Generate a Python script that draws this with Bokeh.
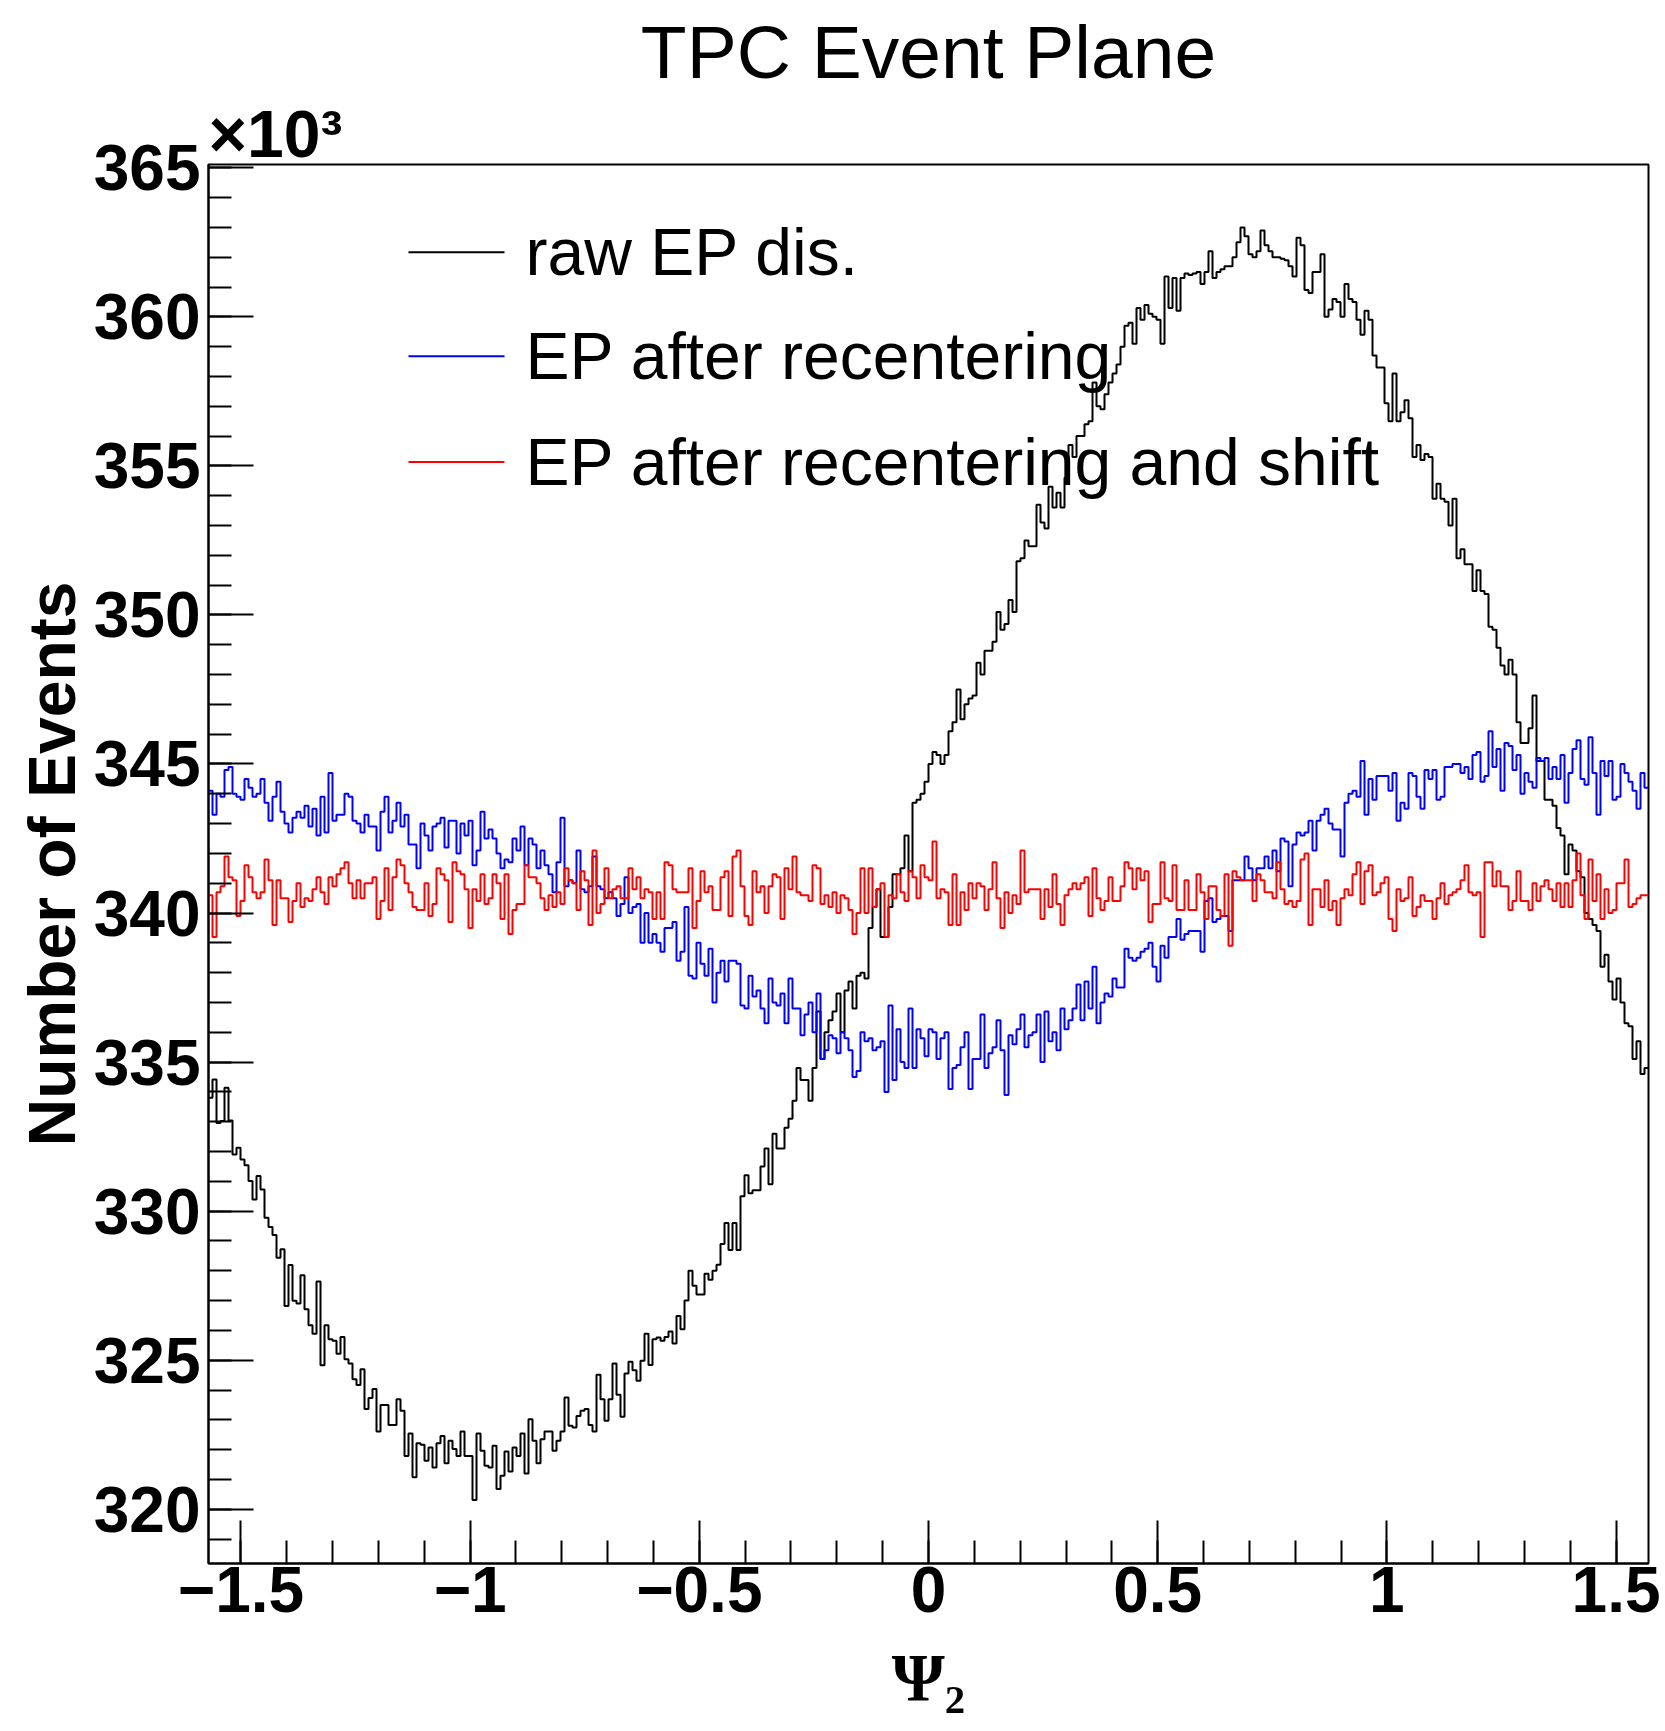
import numpy as np
from bokeh.plotting import figure
from bokeh.models import Range1d, SingleIntervalTicker, Title, CustomJSTickFormatter
from bokeh.core.properties import value
from bokeh.embed import file_html
from bokeh.resources import INLINE

# ---------------- data (counts in units of 10^3) ----------------
raw_ep = [
 333.80, 334.42, 332.96, 333.02, 334.14, 333.04, 331.90, 332.13, 331.73, 331.54,
 331.01, 330.39, 331.18, 330.73, 329.78, 329.47, 329.20, 328.44, 328.72, 326.82,
 328.19, 326.99, 326.90, 327.85, 326.71, 326.17, 325.89, 327.64, 324.83, 326.17,
 325.70, 325.65, 325.22, 325.78, 325.03, 324.89, 324.36, 324.17, 324.70, 323.36,
 323.73, 324.03, 322.61, 323.50, 323.50, 322.83, 322.83, 323.69, 323.30, 321.79,
 322.54, 321.07, 322.21, 322.16, 321.63, 322.07, 321.40, 322.21, 322.46, 321.54,
 322.30, 322.02, 321.79, 322.61, 321.79, 321.79, 320.31, 322.54, 321.96, 321.46,
 321.40, 322.13, 320.68, 321.12, 321.94, 321.27, 322.07, 321.79, 322.54, 321.20,
 323.02, 322.30, 321.54, 322.35, 322.61, 322.61, 321.96, 322.30, 322.61, 323.75,
 322.80, 322.74, 323.13, 323.30, 323.36, 322.83, 322.61, 324.51, 323.69, 322.97,
 323.69, 324.89, 323.84, 323.10, 324.55, 324.95, 324.66, 324.31, 324.98, 325.89,
 324.84, 325.70, 325.76, 325.65, 325.78, 325.96, 325.56, 326.48, 326.04,
 327.0, 328.0, 327.5, 327.2, 327.2, 327.9, 327.7, 328.0, 328.2, 328.9,
 329.6, 328.7, 329.6, 328.7, 330.5, 331.2, 330.6, 330.7, 330.7, 331.5,
 332.1, 330.9, 332.6, 332.1, 332.1, 332.8, 333.1, 333.7, 334.8, 334.4,
 334.4, 333.7, 334.8, 336.7, 335.1, 336.0, 336.4, 336.7, 337.3, 336.0,
 337.4, 337.7, 336.8, 337.9, 338.0, 337.8, 339.5, 340.2, 340.8, 339.2,
 339.2, 340.2, 341.3, 341.3, 341.5, 342.6, 341.4, 343.7, 343.8, 344.0,
 344.4, 345.0, 345.4, 345.3, 345.0, 345.3, 346.1, 346.4, 347.5, 346.5,
 347.0, 347.2, 347.3, 348.4, 348.0, 348.8, 348.8, 349.1, 350.1, 349.5,
 349.7, 350.5, 350.1, 351.8, 351.9, 352.5, 352.3, 352.3, 353.7, 353.1,
 352.9, 354.3, 353.6, 354.1, 353.6, 354.6, 355.7, 355.3, 356.0, 356.0,
 356.4, 356.5, 357.8, 357.0, 356.9, 357.4, 357.8, 358.1, 358.4, 359.0,
 359.7, 359.8, 359.1, 360.3, 359.9, 360.4, 360.1, 360.0, 359.9, 359.1,
 361.35, 360.3, 361.3, 360.2, 361.3, 361.45, 361.4, 361.45, 361.5, 361.1,
 361.5, 362.2, 361.3, 361.5, 361.6, 361.7, 361.7, 362.0, 362.5, 363.0,
 362.7, 362.1, 362.0, 362.2, 362.9, 362.4, 362.2, 362.0, 362.0, 361.95,
 361.9, 361.7, 361.35, 362.65, 362.4, 360.9, 360.8, 361.5, 361.5, 362.1,
 360.0, 360.25, 360.6, 360.5, 360.0, 361.1, 360.6, 360.5, 359.9, 359.4,
 360.2, 359.9, 358.7, 358.3, 358.3, 357.1, 356.5, 358.1, 356.5, 356.8,
 357.2, 356.6, 355.3, 355.7, 355.2, 355.4, 355.3, 353.9, 354.4, 353.9,
 353.8, 353.0, 353.9, 351.9, 352.2, 351.7, 351.7, 350.8, 351.5, 350.8,
 350.7, 349.6, 349.5, 348.9, 348.3, 348.0, 348.5, 348.0, 346.4, 345.7,
 345.7, 346.2, 347.3, 345.1, 345.1, 343.8, 343.8, 343.6, 342.85, 342.6,
 341.3, 342.3, 342.1, 341.4, 341.2, 340.0, 339.8, 339.6, 339.4, 338.2,
 338.6, 337.7, 337.1, 337.8, 337.0, 336.3, 336.2, 335.1, 335.7, 334.6,
 334.8,
]

recentered_ep = [
 344.1, 343.3, 344.0, 343.9, 344.8, 344.9, 344.0, 343.9, 343.8, 344.5,
 344.2, 343.9, 344.0, 344.5, 343.7, 343.1, 343.9, 344.4, 343.4, 343.0,
 342.7, 343.2, 343.4, 343.2, 343.6, 342.9, 343.5, 342.6, 343.9, 342.7,
 344.7, 343.1, 343.3, 343.3, 344.0, 343.9, 343.1, 343.0, 342.7, 343.3,
 342.9, 342.9, 342.1, 343.4, 343.9, 342.7, 343.1, 343.7, 342.9, 343.3,
 342.3, 342.3, 341.5, 343.0, 342.6, 342.1, 342.9, 343.0, 343.2, 342.2,
 343.1, 343.1, 342.0, 343.0, 342.6, 343.1, 341.6, 342.1, 343.4, 342.5,
 342.8, 342.5, 342.0, 341.5, 341.8, 341.7, 342.5, 342.1, 342.9, 341.6,
 342.5, 342.3, 341.5, 342.1, 341.6, 341.3, 340.7, 341.7, 343.2, 340.9,
 341.1, 341.0, 342.1, 340.8, 340.7, 340.9, 341.9, 340.9, 340.8, 340.5,
 340.7, 340.5, 339.9, 340.3, 341.2, 340.0, 340.2, 340.3, 339.0, 340.0,
 339.0, 339.3, 339.0, 338.7, 339.5, 339.5, 339.7, 338.4, 338.7,
 340.2, 337.9, 337.8, 339.0, 338.3, 337.9, 338.8, 337.0, 338.0, 338.4,
 337.7, 338.4, 338.4, 338.3, 336.9, 336.8, 337.9, 337.2, 337.4, 336.8,
 336.3, 337.8, 337.0, 336.9, 337.3, 336.3, 337.8, 336.8, 336.8, 335.9,
 336.6, 337.0, 336.0, 337.3, 335.1, 335.4, 335.9, 335.8, 335.3, 336.0,
 335.8, 335.4, 334.5, 334.7, 336.0, 335.7, 335.8, 335.4, 335.5, 335.7,
 334.0, 336.9, 334.4, 336.1, 335.0, 334.8, 336.8, 334.8, 336.1, 335.8,
 335.2, 336.1, 336.0, 335.1, 335.8, 336.0, 334.1, 334.8, 334.9, 335.5,
 336.0, 334.1, 335.1, 335.1, 336.6, 334.8, 335.3, 335.5, 336.4, 335.4,
 333.9, 335.9, 335.6, 336.1, 336.6, 335.5, 335.9, 336.0, 336.6, 335.0,
 336.7, 335.7, 336.0, 335.4, 336.8, 336.1, 336.4, 336.8, 337.6, 336.4,
 337.7, 336.8, 338.2, 336.3, 337.0, 337.3, 337.2, 337.8, 337.5, 337.5,
 338.8, 338.5, 338.4, 338.5, 338.7, 338.8, 339.0, 338.2, 337.7, 338.9,
 338.5, 339.2, 339.2, 339.8, 339.1, 339.3, 339.4, 339.4, 339.4, 338.7,
 340.4, 340.5, 339.7, 339.8, 339.9, 339.9, 339.4, 341.1, 341.1, 341.1,
 341.9, 341.5, 341.1, 341.5, 341.5, 341.9, 341.5, 342.1, 341.4, 342.5,
 342.4, 340.9, 342.3, 342.7, 342.6, 342.7, 343.1, 342.1, 343.1, 343.3,
 343.5, 343.0, 342.8, 342.8, 341.9, 343.7, 344.0, 344.1, 343.9, 345.1,
 343.3, 344.5, 343.8, 344.6, 344.6, 344.6, 344.1, 344.7, 343.1, 343.7,
 343.5, 344.7, 344.6, 343.9, 343.5, 344.8, 344.5, 344.8, 343.8, 343.9,
 344.9, 344.9, 345.0, 345.0, 344.7, 344.9, 344.5, 345.3, 345.4, 344.4,
 344.6, 346.1, 344.9, 345.5, 344.1, 345.7, 345.6, 344.8, 345.3, 344.0,
 344.7, 344.4, 344.2, 345.2, 345.1, 345.2, 344.5, 344.9, 344.5, 345.3,
 343.7, 344.7, 345.5, 345.8, 344.5, 344.3, 345.9, 344.7, 343.3, 345.1,
 344.6, 345.1, 343.8, 343.9, 345.0, 344.7, 344.4, 344.1, 343.5, 344.7,
 344.2,
]

shifted_ep = [
 340.6, 339.2, 340.7, 340.9, 341.9, 341.2, 341.1, 339.9, 340.4, 341.6,
 341.2, 340.7, 340.5, 340.7, 341.8, 341.1, 339.6, 341.1, 340.5, 340.5,
 339.7, 340.4, 341.0, 340.2, 340.5, 340.4, 340.8, 341.2, 340.7, 340.3,
 341.2, 340.9, 341.3, 341.5, 341.7, 341.0, 340.5, 341.1, 340.5, 341.0,
 341.0, 341.2, 339.8, 340.4, 341.5, 340.1, 341.2, 341.8, 341.6, 341.0,
 340.7, 340.2, 340.1, 340.1, 341.0, 339.9, 340.3, 341.5, 341.3, 341.1,
 339.7, 341.7, 341.4, 341.3, 340.8, 339.5, 340.8, 340.4, 341.3, 340.3,
 340.5, 341.3, 341.0, 339.8, 341.3, 339.3, 340.1, 340.3, 340.3, 341.6,
 341.2, 341.2, 341.0, 340.5, 340.1, 340.6, 340.2, 340.7, 340.3, 341.5,
 341.1, 341.0, 340.1, 341.4, 341.1, 339.6, 342.1, 340.0, 340.3, 341.5,
 340.5, 340.8, 340.9, 340.5, 340.5, 341.5, 340.8, 341.2, 340.5, 340.8,
 340.7, 339.8, 340.7, 339.8, 341.7, 341.6, 340.8, 340.7, 340.7,
 340.7, 341.5, 339.5, 340.4, 341.4, 340.7, 340.9, 340.1, 340.1, 341.2,
 341.4, 339.9, 341.9, 342.1, 340.9, 339.9, 339.6, 341.4, 340.7, 340.9,
 340.0, 340.9, 341.3, 341.2, 339.8, 341.5, 340.8, 341.9, 340.7, 340.6,
 340.6, 340.4, 341.6, 341.5, 340.3, 340.6, 340.2, 340.7, 340.0, 340.6,
 340.5, 340.1, 339.3, 340.0, 341.5, 340.0, 341.5, 340.2, 340.8, 341.0,
 339.2, 340.6, 340.5, 341.3, 340.7, 340.4, 341.4, 341.2, 340.5, 341.6,
 341.2, 341.1, 342.4, 340.5, 340.8, 340.7, 339.6, 341.3, 339.6, 340.7,
 340.1, 341.0, 340.5, 341.0, 340.9, 340.1, 340.8, 341.7, 340.5, 339.5,
 340.7, 340.0, 340.6, 340.3, 342.1, 340.7, 340.8, 340.8, 340.8, 339.8,
 340.8, 340.2, 341.3, 340.3, 339.6, 340.6, 340.8, 341.0, 340.8, 341.0,
 341.2, 339.9, 341.5, 340.5, 340.1, 340.4, 341.2, 340.4, 340.4, 340.9,
 341.7, 341.5, 340.8, 341.5, 341.1, 341.4, 339.7, 340.3, 340.3, 341.7,
 340.5, 340.4, 341.6, 340.1, 340.1, 341.1, 340.1, 340.1, 341.3, 340.7,
 339.8, 340.9, 340.9, 340.1, 339.9, 341.3, 338.9, 341.4, 341.2, 341.1,
 341.1, 341.1, 340.4, 341.3, 341.1, 340.7, 340.7, 340.5, 341.7, 340.8,
 340.3, 340.4, 340.2, 340.4, 341.8, 342.0, 339.6, 340.8, 340.8, 340.2,
 341.1, 340.1, 340.4, 339.6, 340.5, 340.8, 340.6, 341.3, 341.7, 340.3,
 341.4, 341.6, 340.6, 340.7, 341.0, 341.2, 339.8, 339.4, 340.8, 340.4,
 340.5, 341.2, 339.9, 340.2, 340.6, 340.4, 340.4, 339.8, 340.5, 341.0,
 340.3, 340.6, 340.7, 340.8, 341.1, 341.6, 340.7, 340.6, 340.7, 339.2,
 341.7, 341.7, 340.9, 341.4, 340.9, 340.9, 340.1, 340.4, 341.4, 340.4,
 340.4, 340.1, 341.0, 340.4, 340.9, 341.1, 340.8, 340.4, 341.0, 340.2,
 341.0, 340.2, 341.1, 342.0, 340.6, 339.8, 341.8, 340.4, 341.3, 339.8,
 340.8, 340.0, 340.1, 341.0, 341.0, 341.8, 340.2, 340.3, 340.5, 340.6,
 340.6,
]

series_labels = ["raw EP dis.", "EP after recentering", "EP after recentering and shift"]
series_colors = ["#000000", "#0000ff", "#ff0000"]

# ---------------- layout ----------------
W, H = 1665, 1731
LB, RB, TB, BB = 208, 17, 162, 168
X0, X1 = -np.pi / 2, np.pi / 2
Y0, Y1 = 318.18, 365.11
FW, FH = W - LB - RB, H - TB - BB


def px2x(px):
    return X0 + (px - LB) / FW * (X1 - X0)


def py2y(py):
    return Y1 - (py - TB) / FH * (Y1 - Y0)


p = figure(width=W, height=H, output_backend="svg", toolbar_location=None,
           x_range=Range1d(X0, X1), y_range=Range1d(Y0, Y1),
           min_border_left=LB, min_border_right=RB, min_border_top=TB,
           min_border_bottom=BB, title_location=None)
p.background_fill_color = "white"
p.border_fill_color = "white"
p.outline_line_color = "black"
p.outline_line_width = 2
p.xgrid.visible = False
p.ygrid.visible = False

p.xaxis.ticker = SingleIntervalTicker(interval=0.5, num_minor_ticks=5)
p.yaxis.ticker = SingleIntervalTicker(interval=5, num_minor_ticks=5)
p.xaxis.formatter = CustomJSTickFormatter(
    code="return (tick < 0 ? '\u2212' : '') + Math.abs(tick).toString();")
for ax in (p.xaxis[0], p.yaxis[0]):
    ax.axis_line_width = 2
    ax.axis_line_color = "black"
    ax.major_tick_out = 0
    ax.minor_tick_out = 0
    ax.minor_tick_in = 23
    ax.major_tick_line_width = 2
    ax.minor_tick_line_width = 2
    ax.major_tick_line_color = "black"
    ax.minor_tick_line_color = "black"
    ax.major_label_text_font = "Liberation Sans"
    ax.major_label_text_font_style = "bold"
    ax.major_label_text_font_size = "64px"
    ax.major_label_text_color = "black"
p.xaxis.major_tick_in = 43
p.yaxis.major_tick_in = 45
p.xaxis.major_label_standoff = 3
p.yaxis.major_label_standoff = 8

# axis titles
p.yaxis.axis_label = "Number of Events"
p.yaxis.axis_label_text_font = "Liberation Sans"
p.yaxis.axis_label_text_font_style = "bold"
p.yaxis.axis_label_text_font_size = "66px"
p.yaxis.axis_label_text_color = "black"
p.yaxis.axis_label_standoff = 2

p.xaxis.axis_label = "\u03a8\u2082"
p.xaxis.axis_label_text_font = "Liberation Serif"
p.xaxis.axis_label_text_font_style = "bold"
p.xaxis.axis_label_text_font_size = "68px"
p.xaxis.axis_label_text_color = "black"
p.xaxis.axis_label_standoff = 24

# x10^3 multiplier (nearest the frame) and main title above it
p.add_layout(Title(text="\u00d710\u00b3", align="left", text_font="Liberation Sans",
                   text_font_style="bold", text_font_size="66px", text_color="black",
                   standoff=-12), "above")
p.add_layout(Title(text="TPC Event Plane", align="center", text_font="Liberation Sans",
                   text_font_style="normal", text_font_size="75px", text_color="black",
                   standoff=14), "above")

# histograms
for vals, col in zip([raw_ep, recentered_ep, shifted_ep], series_colors):
    n = len(vals)
    edges = np.linspace(X0, X1, n + 1)
    yy = list(vals) + [vals[-1]]
    p.step(x=edges, y=yy, mode="after", line_color=col, line_width=2)

# legend (drawn by hand, ROOT style)
leg_rows_px = [250, 354, 460]
p.segment(x0=[px2x(408)] * 3, x1=[px2x(504)] * 3,
          y0=[py2y(v) for v in leg_rows_px], y1=[py2y(v) for v in leg_rows_px],
          line_color=series_colors, line_width=2)
p.text(x=[px2x(525)] * 3, y=[py2y(v) for v in leg_rows_px], text=series_labels,
       text_font=value("Liberation Sans"), text_font_size="66px",
       text_baseline="middle", text_align="left", text_color="black")

open("out.html", "w").write(file_html(p, INLINE))
